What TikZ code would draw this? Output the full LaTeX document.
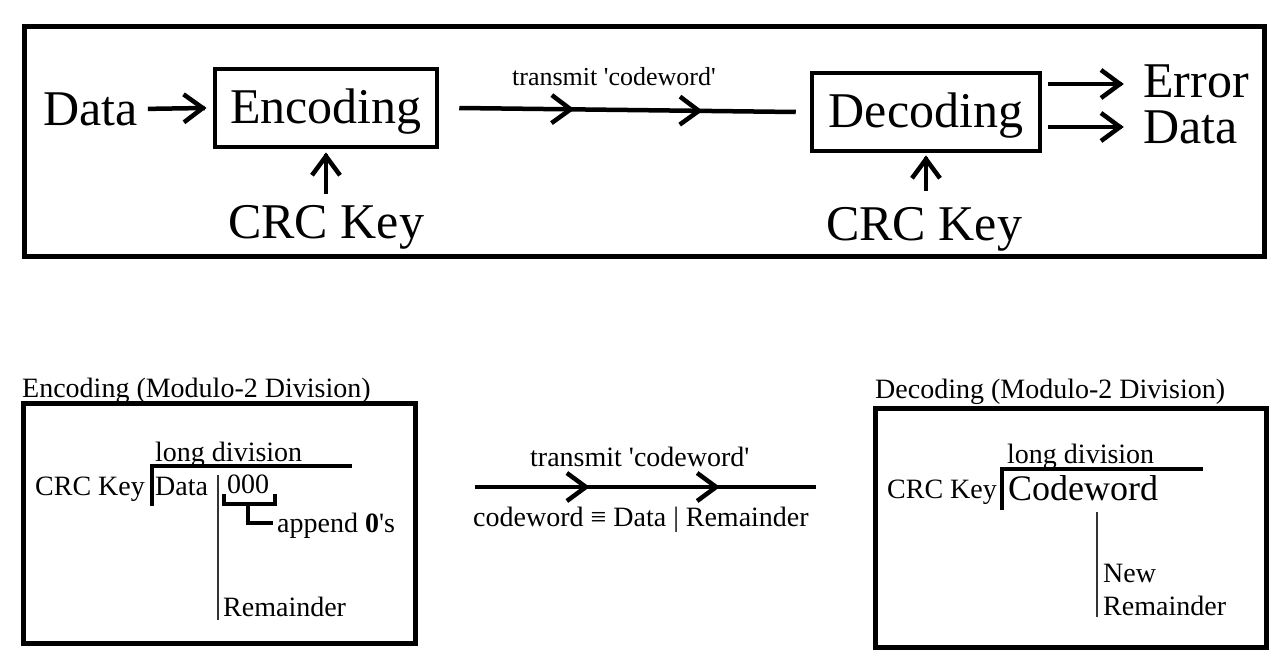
\documentclass[tikz,border=0pt]{standalone}
\usepackage{fontspec}
\setmainfont{Liberation Serif}
\usetikzlibrary{decorations.markings}
\newcommand{\chevglyph}{\draw[line width=4.5pt, line join=miter, line cap=butt] (-21pt,14pt) -- (-2pt,0pt) -- (-21pt,-14pt);}
\begin{document}
\begin{tikzpicture}[x=1pt,y=-1pt,
  big/.style={font=\fontsize{50}{60}\selectfont, inner sep=0pt},
  small/.style={font=\fontsize{28}{34}\selectfont, inner sep=0pt},
  lbl/.style={font=\fontsize{26}{31}\selectfont, inner sep=0pt},
  cwfont/.style={font=\fontsize{36}{42}\selectfont, inner sep=0pt},
  procbox/.style={big, draw, line width=4.5pt, minimum height=78pt, text height=38pt, text depth=8pt},
  frame/.style={line width=5pt},
  bar/.style={line width=4pt},
  thinl/.style={line width=1.3pt, black!80},
  arr/.style={line width=4.5pt, postaction={decorate, decoration={markings,
      mark=at position 1 with {\chevglyph}}}},
  chevs/.style 2 args={line width=4.5pt, postaction={decorate, decoration={markings,
      mark=at position #1 with {\chevglyph},
      mark=at position #2 with {\chevglyph}}}}
]
\useasboundingbox (0,0) rectangle (1283,661);

% ---------- top diagram ----------
\draw[frame] (24,27) rectangle (1264,256);
\node[big, anchor=base west] (data) at (43,125) {Data};
\node[procbox, minimum width=222pt] (enc) at (326,108) {Encoding};
\node[big, anchor=base west] (crc1) at (228,238) {CRC Key};
\draw[arr] ([xshift=10pt]data.east) -- ([xshift=-8pt]enc.west);
\draw[arr] ([yshift=11pt]enc.south |- crc1.north) -- ([yshift=-5pt]enc.south);

\node[procbox, minimum width=228pt] (dec) at (926,112) {Decoding};
\node[big, anchor=base west] (crc2) at (826,240) {CRC Key};
\draw[arr] ([yshift=16pt]dec.south |- crc2.north) -- ([yshift=-4pt]dec.south);

\node[lbl, anchor=base west] (tx1) at (512,85) {transmit \textquotesingle codeword\textquotesingle};
\draw[chevs={0.337}{0.718}] ([xshift=20pt]enc.east) -- ([xshift=-14pt]dec.west);

\node[big, anchor=base west] (err) at (1143,97) {Error};
\node[big, anchor=base west] (out) at (1143,143) {Data};
\coordinate (e1) at ([yshift=28pt]dec.east -| err.west);
\coordinate (e2) at ([yshift=-15pt]dec.east -| out.west);
\draw[arr] ([xshift=6pt,yshift=28pt]dec.east) -- ([xshift=-21pt]e1);
\draw[arr] ([xshift=6pt,yshift=-15pt]dec.east) -- ([xshift=-21pt]e2);

% ---------- bottom left: encoding ----------
\node[small, anchor=base west] (enct) at (22,397) {Encoding (Modulo-2 Division)};
\draw[frame] (23,403) rectangle (415,643);
\node[small, anchor=base west] (ld1) at (155,461) {long division};
\draw[bar] (352,466) -- (152,466) -- (152,506);
\node[small, anchor=base west] (key1) at (35,495) {CRC Key};
\node[small, anchor=base west] (dat1) at (155,495) {Data};
\draw[thinl] (218,475) -- (218,620);
\node[small, anchor=base west] (zeros) at (227,493) {000};
\draw[bar] (224,494) -- (224,504) -- (275,504) -- (275,494);
\draw[bar] (248,504) -- (248,523) -- (273,523);
\node[small, anchor=base west] (app) at (277,532) {append \textbf{0}\textquotesingle s};
\node[small, anchor=base west] (rem1) at (223,616) {Remainder};

% ---------- bottom middle ----------
\node[small, anchor=base west] (tx2) at (530,466) {transmit \textquotesingle codeword\textquotesingle};
\coordinate (m1) at (475,487);
\coordinate (m2) at (816,487);
\draw[chevs={0.331}{0.713}] (m1) -- (m2);
\node[small, anchor=base west] (cw) at (473,526) {codeword ≡ Data | Remainder};

% ---------- bottom right: decoding ----------
\node[small, anchor=base west] (dect) at (875,398) {Decoding (Modulo-2 Division)};
\draw[frame] (875,408) rectangle (1266,647);
\node[small, anchor=base west] (ld2) at (1007,463) {long division};
\draw[bar] (1203,469) -- (1002,469) -- (1002,510);
\node[small, anchor=base west] (key2) at (887,498) {CRC Key};
\node[cwfont, anchor=base west] (cwd) at (1008,500) {Codeword};
\draw[thinl] (1097,512) -- (1097,617);
\node[small, anchor=base west] (new) at (1103,582) {New};
\node[small, anchor=base west] (rem2) at (1103,615) {Remainder};
\end{tikzpicture}
\end{document}
